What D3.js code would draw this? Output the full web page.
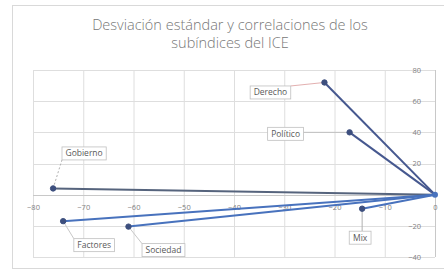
<!DOCTYPE html>
<html><head><meta charset="utf-8">
<script src="https://cdn.jsdelivr.net/npm/d3@7"></script>
<style>
html,body{margin:0;padding:0;background:#fff;}
svg{display:block;}
</style></head>
<body>
<script>
const categories = ["Gobierno","Factores","Sociedad","Derecho","Político","Mix"];
const xValues = [-76, -74, -61, -22, -17, -14.5];
const yValues = [4, -17, -20.5, 72, 40, -9];
const xTicks = [-80,-70,-60,-50,-40,-30,-20,-10,0];
const yTicks = [80,60,40,20,0,-20,-40];
const titleLines = ["Desviación estándar y correlaciones de los","subíndices del ICE"];

// styling / layout (not data)
const lineColors = ["#56647d","#4872bd","#4872bd","#46588f","#46588f","#4872bd"];
const labelOffsets = [[31,-35],[31,24],[35,23.5],[-54,10],[-64,1.5],[-2,29]];
const leaderColors = ["#b0b0b0","#c8c8c8","#c8c8c8","#e3b0b0","#c0c0c0","#b0b0b0"];

const W = 444, H = 271;
const svg = d3.select("body").append("svg").attr("width",W).attr("height",H);

svg.append("rect").attr("x",12.5).attr("y",5.5).attr("width",W).attr("height",263)
  .attr("fill","#fff").attr("stroke","#d9d9d9");

const x = d3.scaleLinear().domain([-80,0]).range([33,435]);
const y = d3.scaleLinear().domain([-40,80]).range([257,70]);

// gridlines
svg.append("g").selectAll("line").data(xTicks).join("line")
  .attr("x1",d=>x(d)+0.5).attr("x2",d=>x(d)+0.5).attr("y1",y(80)).attr("y2",y(-40))
  .attr("stroke","#dedede");
svg.append("g").selectAll("line").data(yTicks).join("line")
  .attr("y1",d=>Math.round(y(d))+0.5).attr("y2",d=>Math.round(y(d))+0.5).attr("x1",x(-80)).attr("x2",x(0))
  .attr("stroke","#dedede");

// axes lines
svg.append("line").attr("x1",x(-80)).attr("x2",x(0)).attr("y1",Math.round(y(0))+0.5).attr("y2",Math.round(y(0))+0.5).attr("stroke","#c8c8c8");
svg.append("line").attr("x1",x(0)+0.5).attr("x2",x(0)+0.5).attr("y1",y(80)).attr("y2",y(-40)).attr("stroke","#c8c8c8");

// axis labels using d3 axes
const xAxis = svg.append("g").attr("transform",`translate(0,${y(0)+7})`)
  .call(d3.axisBottom(x).tickValues(xTicks).tickSize(0).tickFormat(d3.format("d")));
xAxis.select(".domain").remove();
xAxis.selectAll("text").attr("fill","#7f7f7f").style("font-family","Open Sans").style("font-size","7.5px");

const yAxis = svg.append("g").attr("transform",`translate(${x(0)-11},0)`)
  .call(d3.axisLeft(y).tickValues(yTicks).tickSize(0).tickFormat(d=>d===0?"":d3.format("d")(d)));
yAxis.select(".domain").remove();
yAxis.selectAll("text").attr("fill","#7f7f7f").style("font-family","Open Sans").style("font-size","7.5px");

// title
svg.append("g").selectAll("text").data(titleLines).join("text")
  .attr("x",230).attr("y",(d,i)=>30+i*18).attr("text-anchor","middle")
  .attr("fill","#777").style("font-family","Open Sans").style("font-size","14.5px").style("font-weight","300")
  .text(d=>d);

const data = categories.map((c,i)=>({name:c, x:xValues[i], y:yValues[i], i}));

// leader lines + label boxes
const labG = svg.append("g");
data.forEach(d=>{
  const px = x(d.x), py = y(d.y);
  const [ox,oy] = labelOffsets[d.i];
  const cx = px+ox, cy = py+oy;
  const t = labG.append("text").attr("x",cx).attr("y",cy+3).attr("text-anchor","middle")
    .attr("fill","#595959").style("font-family","Open Sans").style("font-size","8.5px").text(d.name);
  const bb = t.node().getBBox();
  const bw = bb.width+7, bh = 13;
  let ex = Math.max(cx-bw/2, Math.min(cx+bw/2, px));
  let ey = Math.max(cy-bh/2, Math.min(cy+bh/2, py));
  const ln = labG.insert("line","text").attr("x1",px).attr("y1",py).attr("x2",ex).attr("y2",ey)
    .attr("stroke",leaderColors[d.i]).attr("stroke-width",1);
  if (d.i===0) ln.attr("stroke-dasharray","2,2");
  labG.insert("rect","text").attr("x",cx-bw/2).attr("y",cy-bh/2).attr("width",bw).attr("height",bh)
    .attr("fill","#fff").attr("stroke","#bfbfbf").attr("stroke-width",0.8);
});

// series lines
const line = d3.line().x(p=>x(p[0])).y(p=>y(p[1]));
svg.append("g").selectAll("path").data(data).join("path")
  .attr("d",d=>line([[0,0],[d.x,d.y]]))
  .attr("fill","none").attr("stroke",d=>lineColors[d.i]).attr("stroke-width",2);

// markers
svg.append("g").selectAll("circle").data(data).join("circle")
  .attr("cx",d=>x(d.x)).attr("cy",d=>y(d.y)).attr("r",2.7)
  .attr("fill","#3d4f7e").attr("stroke","#3d4f7e");
svg.append("circle").attr("cx",x(0)).attr("cy",y(0)).attr("r",3).attr("fill","#4872bd");
</script>
</body></html>
